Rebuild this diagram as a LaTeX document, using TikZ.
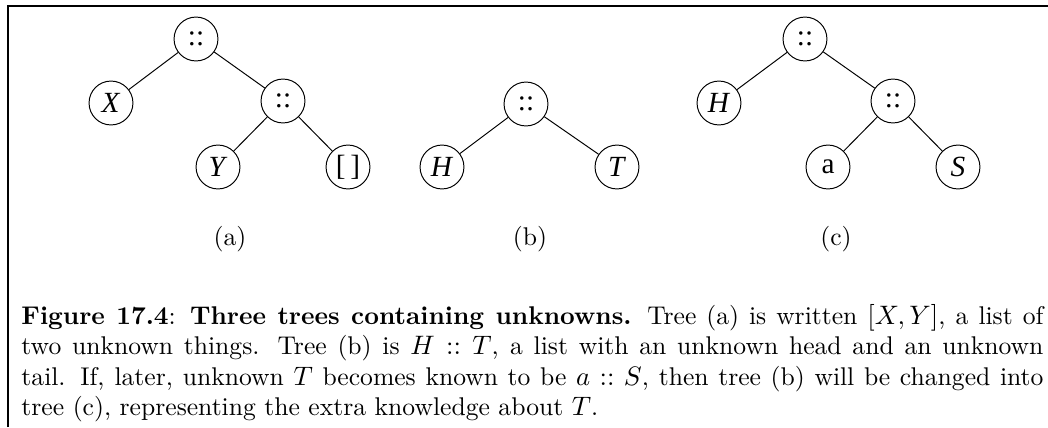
\documentclass[tikz,border=0pt]{standalone}
\usepackage{fontspec}
\newfontfamily\treefont{Liberation Serif}
\usetikzlibrary{positioning}

\begin{document}
\begin{tikzpicture}[
    x=0.41pt, y=-0.41pt,
    thin,
    tree node/.style={circle, draw, minimum size=18pt, inner sep=0pt, font=\treefont\fontsize{12}{14}\selectfont},
    sub label/.style={inner sep=0pt, font=\fontsize{10.5}{12.3}\selectfont}
]
    \useasboundingbox (0,0) rectangle (1048,427);

    % Frame
    \draw[line width=0.8pt] (8,427) -- (8,6) -- (1048,6);

    % Tree (a)
    \node[tree node] (RootA) at (196, 39) {::};
    \node[tree node] (X) at (111, 103) {\textit{X}};
    \node[tree node] (ConsA) at (283, 101) {::};
    \node[tree node] (Y) at (218, 167) {\textit{Y}};
    \node[tree node] (Nil) at (348, 167) {[\,]};

    % Tree (b)
    \node[tree node] (RootB) at (526, 104) {::};
    \node[tree node] (HeadB) at (442, 167) {\textit{H}};
    \node[tree node] (TailB) at (617, 167) {\textit{T}};

    % Tree (c)
    \node[tree node] (RootC) at (805, 39) {::};
    \node[tree node] (HeadC) at (719, 103) {\textit{H}};
    \node[tree node] (ConsC) at (893, 101) {::};
    \node[tree node] (A) at (828, 167) {a};
    \node[tree node] (S) at (958, 167) {\textit{S}};

    % Edges
    \draw (RootA) -- (X);
    \draw (RootA) -- (ConsA);
    \draw (ConsA) -- (Y);
    \draw (ConsA) -- (Nil);
    \draw (RootB) -- (HeadB);
    \draw (RootB) -- (TailB);
    \draw (RootC) -- (HeadC);
    \draw (RootC) -- (ConsC);
    \draw (ConsC) -- (A);
    \draw (ConsC) -- (S);

    % Sub-figure labels
    \node[sub label] (LabelA) at (230, 239) {(a)};
    \node[sub label] (LabelB) at (530, 239) {(b)};
    \node[sub label] (LabelC) at (836, 239) {(c)};

    % Caption
    \node[anchor=north west, inner sep=0pt, text width=419pt, align=justify,
          font=\fontsize{10.5}{12.45}\selectfont] (Caption) at (21, 304)
        {\textbf{Figure 17.4}: \textbf{Three trees containing unknowns.} Tree (a) is written $[X,Y]$, a list of\linebreak
        two unknown things. Tree (b) is $H::T$, a list with an unknown head and an unknown\linebreak
        tail. If, later, unknown $T$ becomes known to be $a::S$, then tree (b) will be changed into\linebreak
        tree (c), representing the extra knowledge about $T$.};
\end{tikzpicture}
\end{document}
